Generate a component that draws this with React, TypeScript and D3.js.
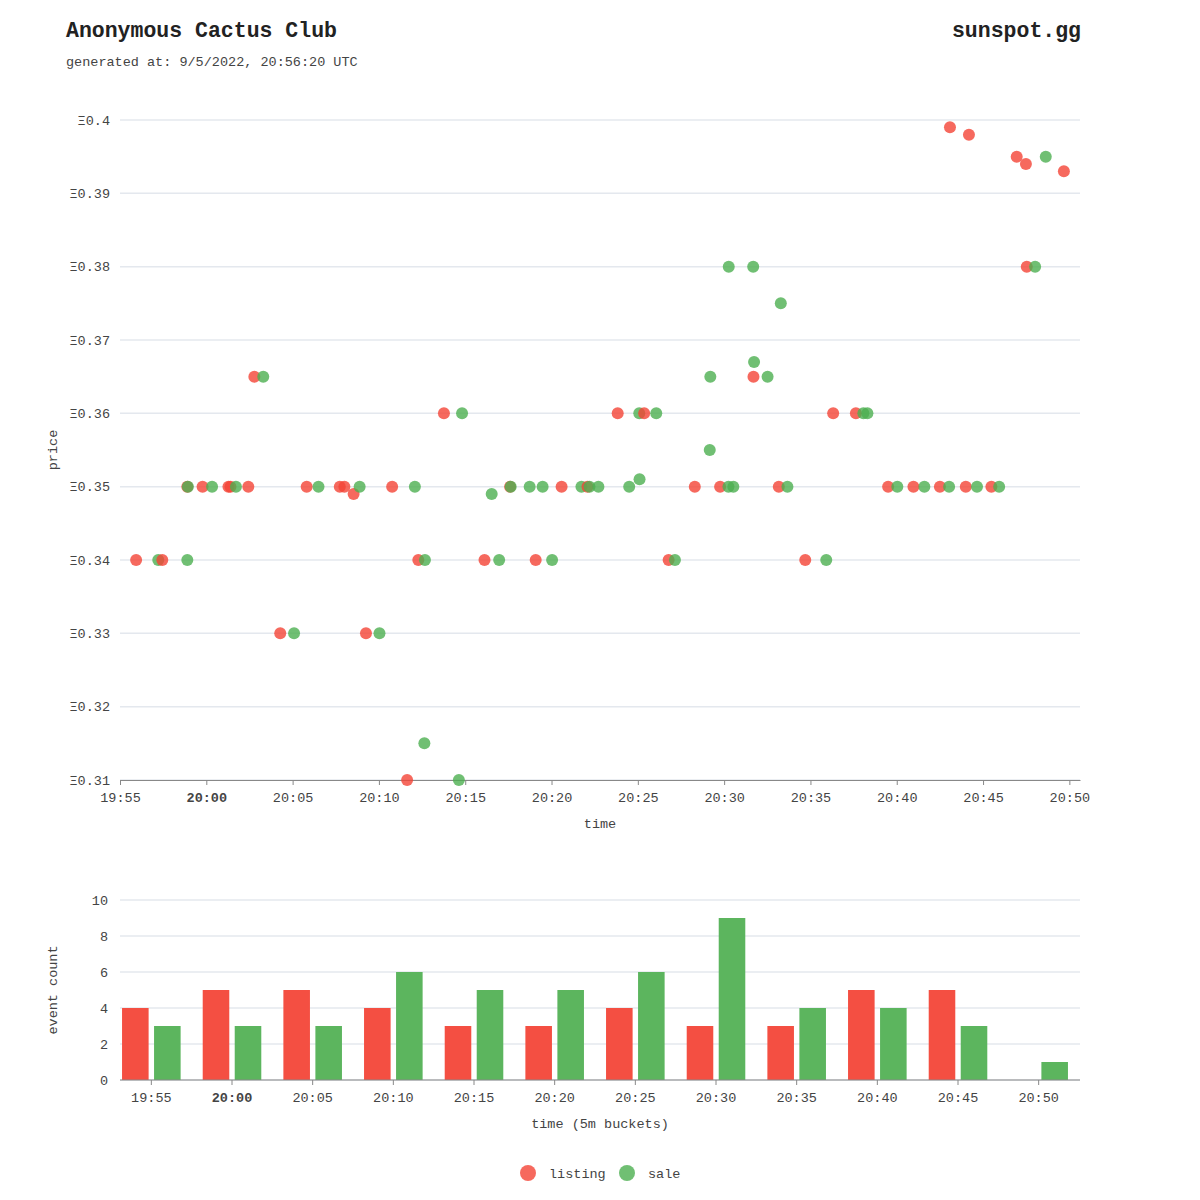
import React, { useEffect, useRef } from "react";
import * as d3 from "d3";

// listing / sale events: [time (UTC), price in ETH]
const listingEvents: [string, number][] = [
  ["19:55:56", 0.34], ["19:57:27", 0.34], ["19:58:54", 0.35], ["19:59:47", 0.35],
  ["20:01:17", 0.35], ["20:01:24", 0.35], ["20:02:26", 0.35], ["20:02:47", 0.365],
  ["20:04:17", 0.33], ["20:05:49", 0.35], ["20:07:44", 0.35], ["20:08:00", 0.35],
  ["20:08:32", 0.349], ["20:09:15", 0.33], ["20:10:46", 0.35], ["20:11:38", 0.31],
  ["20:12:17", 0.34], ["20:13:46", 0.36], ["20:16:07", 0.34], ["20:17:36", 0.35],
  ["20:19:05", 0.34], ["20:20:35", 0.35], ["20:22:05", 0.35], ["20:23:50", 0.36],
  ["20:25:22", 0.36], ["20:26:47", 0.34], ["20:28:18", 0.35], ["20:29:46", 0.35],
  ["20:31:42", 0.365], ["20:33:10", 0.35], ["20:34:42", 0.34], ["20:36:19", 0.36],
  ["20:37:38", 0.36], ["20:39:30", 0.35], ["20:40:58", 0.35], ["20:42:30", 0.35],
  ["20:43:05", 0.399], ["20:44:00", 0.35], ["20:44:11", 0.398], ["20:45:29", 0.35],
  ["20:46:57", 0.395], ["20:47:29", 0.394], ["20:47:32", 0.38], ["20:49:41", 0.393],
];

const saleEvents: [string, number][] = [
  ["19:57:13", 0.34], ["19:58:54", 0.34], ["19:58:56", 0.35], ["20:00:20", 0.35],
  ["20:01:43", 0.35], ["20:03:18", 0.365], ["20:05:05", 0.33], ["20:06:30", 0.35],
  ["20:08:53", 0.35], ["20:10:02", 0.33], ["20:12:05", 0.35], ["20:12:38", 0.315],
  ["20:12:40", 0.34], ["20:14:38", 0.31], ["20:14:49", 0.36], ["20:16:32", 0.349],
  ["20:16:58", 0.34], ["20:17:38", 0.35], ["20:18:44", 0.35], ["20:19:29", 0.35],
  ["20:20:02", 0.34], ["20:21:44", 0.35], ["20:22:12", 0.35], ["20:22:43", 0.35],
  ["20:24:30", 0.35], ["20:25:05", 0.36], ["20:25:06", 0.351], ["20:26:04", 0.36],
  ["20:27:09", 0.34], ["20:29:10", 0.355], ["20:29:12", 0.365], ["20:30:15", 0.35],
  ["20:30:16", 0.38], ["20:30:32", 0.35], ["20:31:41", 0.38], ["20:31:44", 0.367],
  ["20:32:31", 0.365], ["20:33:17", 0.375], ["20:33:40", 0.35], ["20:35:55", 0.34],
  ["20:38:04", 0.36], ["20:38:18", 0.36], ["20:40:02", 0.35], ["20:41:36", 0.35],
  ["20:43:02", 0.35], ["20:44:39", 0.35], ["20:45:56", 0.35], ["20:48:01", 0.38],
  ["20:48:38", 0.395],
];

// 5 minute buckets
const buckets = ["19:55", "20:00", "20:05", "20:10", "20:15", "20:20", "20:25", "20:30", "20:35", "20:40", "20:45", "20:50"];
const listingCounts = [4, 5, 5, 4, 3, 3, 4, 3, 3, 5, 5, 0];
const saleCounts = [3, 3, 3, 6, 5, 5, 6, 9, 4, 4, 3, 1];

const priceTicks = [0.31, 0.32, 0.33, 0.34, 0.35, 0.36, 0.37, 0.38, 0.39, 0.4];
const countTicks = [0, 2, 4, 6, 8, 10];

const DAY = "2022-09-05";
const parseTime = d3.utcParse("%Y-%m-%d %H:%M:%S");
const at = (t: string) => parseTime(`${DAY} ${t}`) as Date;

const COLORS = { listing: "#f44336", sale: "#4caf50" };
const BAR_COLORS = { listing: "#f44f42", sale: "#5cb55e" };
const FONT = "'Courier New', 'Liberation Mono', monospace";

const App: React.FC = () => {
  const svgRef = useRef<SVGSVGElement>(null);

  useEffect(() => {
    if (!svgRef.current) return;
    const svg = d3.select(svgRef.current);
    svg.selectAll("*").remove();

    const left = 120;
    const right = 1080;

    // header
    svg.append("text").attr("x", 66).attr("y", 37).attr("font-size", 21.5)
      .attr("font-weight", "bold").attr("fill", "#222").text("Anonymous Cactus Club");
    svg.append("text").attr("x", 1081).attr("y", 37).attr("font-size", 21.5)
      .attr("font-weight", "bold").attr("fill", "#222").attr("text-anchor", "end").text("sunspot.gg");
    svg.append("text").attr("x", 66).attr("y", 66).attr("font-size", 13.5)
      .attr("fill", "#444").text("generated at: 9/5/2022, 20:56:20 UTC");

    const fmtHM = d3.utcFormat("%H:%M");
    const styleTimeLabels = (sel: d3.Selection<any, any, any, any>) => {
      sel.selectAll(".tick text")
        .attr("font-size", 13.5)
        .attr("fill", "#444")
        .attr("font-family", FONT)
        .attr("dy", "1.0em")
        .attr("font-weight", function () {
          return (d3.select(this).text().endsWith(":00") ? "bold" : "normal");
        });
      sel.select(".domain").attr("stroke", "#888");
      sel.selectAll(".tick line").attr("stroke", "#888");
    };

    // ---- scatter: price over time ----
    const top = 120;
    const bottom = 780;
    const x = d3.scaleTime()
      .domain([at("19:55:00"), at("20:50:37")])
      .range([left, right]);
    const y = d3.scaleLinear().domain([0.31, 0.4]).range([bottom, top]);

    const sc = svg.append("g");
    sc.append("g").selectAll("line").data(priceTicks).join("line")
      .attr("x1", left).attr("x2", right)
      .attr("y1", (d) => y(d)).attr("y2", (d) => y(d))
      .attr("stroke", "#e4e8ee").attr("stroke-width", 1.5);
    sc.append("g").selectAll("text").data(priceTicks).join("text")
      .attr("x", 110).attr("y", (d) => y(d)).attr("dy", "0.35em")
      .attr("text-anchor", "end").attr("font-size", 13.5).attr("fill", "#444")
      .text((d) => `Ξ${+d.toFixed(3)}`);

    const xAxis = sc.append("g").attr("transform", `translate(0,${bottom})`)
      .call(d3.axisBottom(x).ticks(d3.utcMinute.every(5)).tickSize(5).tickSizeOuter(0)
        .tickFormat((d) => fmtHM(d as Date)));
    styleTimeLabels(xAxis);

    const points = [
      ...listingEvents.map(([t, p]) => ({ time: at(t), price: p, kind: "listing" as const })),
      ...saleEvents.map(([t, p]) => ({ time: at(t), price: p, kind: "sale" as const })),
    ].sort((a, b) => +a.time - +b.time);

    sc.append("g").selectAll("circle").data(points).join("circle")
      .attr("cx", (d) => x(d.time)).attr("cy", (d) => y(d.price)).attr("r", 6)
      .attr("fill", (d) => COLORS[d.kind]).attr("fill-opacity", 0.8);

    sc.append("text").attr("x", 600).attr("y", 828).attr("text-anchor", "middle")
      .attr("font-size", 13.5).attr("fill", "#444").text("time");
    sc.append("text").attr("transform", "translate(57,450) rotate(-90)")
      .attr("text-anchor", "middle").attr("font-size", 13.5).attr("fill", "#444").text("price");

    // ---- bars: events per 5 minute bucket ----
    const bTop = 900;
    const bBottom = 1080;
    const x0 = d3.scaleBand().domain(buckets).range([111, 1079])
      .paddingInner(0.25).paddingOuter(0.125);
    const x1 = d3.scaleBand().domain(["listing", "sale"]).range([0, x0.bandwidth()])
      .paddingInner(0.17).paddingOuter(0.03);
    const yc = d3.scaleLinear().domain([0, 10]).range([bBottom, bTop]);

    const bc = svg.append("g");
    bc.append("g").selectAll("line").data(countTicks).join("line")
      .attr("x1", left).attr("x2", right)
      .attr("y1", (d) => yc(d)).attr("y2", (d) => yc(d))
      .attr("stroke", "#e4e8ee").attr("stroke-width", 1.5);
    bc.append("g").selectAll("text").data(countTicks).join("text")
      .attr("x", 108).attr("y", (d) => yc(d)).attr("dy", "0.35em")
      .attr("text-anchor", "end").attr("font-size", 13.5).attr("fill", "#444")
      .text((d) => d);

    const groups = bc.append("g").selectAll("g").data(buckets).join("g")
      .attr("transform", (d) => `translate(${x0(d)},0)`);
    groups.selectAll("rect")
      .data((_, i) => [
        { kind: "listing" as const, value: listingCounts[i] },
        { kind: "sale" as const, value: saleCounts[i] },
      ])
      .join("rect")
      .attr("x", (d) => x1(d.kind) as number)
      .attr("width", x1.bandwidth())
      .attr("y", (d) => yc(d.value))
      .attr("height", (d) => yc(0) - yc(d.value))
      .attr("fill", (d) => BAR_COLORS[d.kind]);

    const bAxis = bc.append("g").attr("transform", `translate(0,${bBottom})`)
      .call(d3.axisBottom(x0).tickSize(5).tickSizeOuter(0));
    bAxis.select(".domain").remove();
    bAxis.insert("line", ":first-child").attr("x1", left).attr("x2", right)
      .attr("stroke", "#888").attr("class", "domain");
    styleTimeLabels(bAxis);

    bc.append("text").attr("x", 600).attr("y", 1128).attr("text-anchor", "middle")
      .attr("font-size", 13.5).attr("fill", "#444").text("time (5m buckets)");
    bc.append("text").attr("transform", "translate(57,990) rotate(-90)")
      .attr("text-anchor", "middle").attr("font-size", 13.5).attr("fill", "#444").text("event count");

    // legend
    const legend = svg.append("g").attr("transform", "translate(0,1173)");
    const items = [
      { kind: "listing" as const, x: 528 },
      { kind: "sale" as const, x: 627 },
    ];
    legend.selectAll("circle").data(items).join("circle")
      .attr("cx", (d) => d.x).attr("cy", 0).attr("r", 8)
      .attr("fill", (d) => COLORS[d.kind]).attr("fill-opacity", 0.8);
    legend.selectAll("text").data(items).join("text")
      .attr("x", (d) => d.x + 21).attr("y", 0).attr("dy", "0.35em")
      .attr("font-size", 13.5).attr("fill", "#444").text((d) => d.kind);
  }, []);

  return (
    <svg
      ref={svgRef}
      width={1200}
      height={1200}
      fontFamily={FONT}
      style={{ position: "absolute", left: 0, top: 0, background: "#fff" }}
    />
  );
};

export default App;
